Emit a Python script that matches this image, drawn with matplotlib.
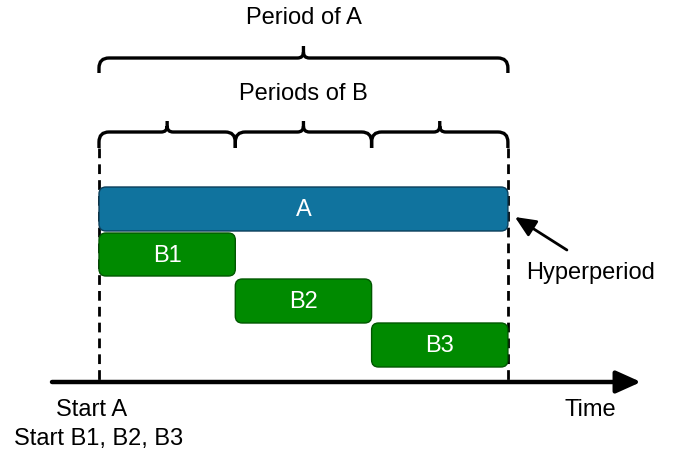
"""Hyperperiod diagram: task A with period 3, tasks B1..B3 with period 1."""

import matplotlib
matplotlib.use("Agg")
import matplotlib.pyplot as plt
from matplotlib.patches import FancyBboxPatch, FancyArrowPatch, PathPatch
from matplotlib.path import Path

plt.rcParams["font.family"] = ["Liberation Sans", "DejaVu Sans"]

# time data (units of B's period)
period_a = 3
period_b = 1
task_names = ["A", "B1", "B2", "B3"]
task_starts = [0, 0, 1, 2]
task_ends = [3, 1, 2, 3]
task_colors = ["#10739E", "#008A00", "#008A00", "#008A00"]
task_edges = ["#0B3E5A", "#005700", "#005700", "#005700"]
# vertical layout (pixels from top)
task_tops = [187, 233, 279, 323]
task_heights = [44, 43, 44, 44]

PX = 136.3          # pixels per time unit
X0 = 99             # pixel column of t = 0
W, H = 683, 454

fig = plt.figure(figsize=(W / 100, H / 100), dpi=100)
ax = fig.add_axes([0, 0, 1, 1])
ax.set_xlim(-X0 / PX, (W - X0) / PX)
ax.set_ylim(H, 0)
ax.axis("off")

LW = 2.4
FS = 17
DY = 1.5  # nudge text down a little


def brace(t0, t1, y_end, y_mid, y_tip, r=10):
    rx = r / PX
    tc = (t0 + t1) / 2
    rc = 6
    rcx = rc / PX
    verts = [
        (t0, y_end), (t0, y_mid + r), (t0, y_mid), (t0 + rx, y_mid),
        (tc - rcx, y_mid), (tc, y_mid), (tc, y_mid - rc), (tc, y_tip),
        (tc, y_mid - rc), (tc, y_mid), (tc + rcx, y_mid),
        (t1 - rx, y_mid), (t1, y_mid), (t1, y_mid + r), (t1, y_end),
    ]
    codes = [
        Path.MOVETO, Path.LINETO, Path.CURVE3, Path.CURVE3,
        Path.LINETO, Path.CURVE3, Path.CURVE3, Path.LINETO,
        Path.MOVETO, Path.CURVE3, Path.CURVE3,
        Path.LINETO, Path.CURVE3, Path.CURVE3, Path.LINETO,
    ]
    ax.add_patch(PathPatch(Path(verts, codes), fill=False, lw=LW,
                           edgecolor="black", capstyle="butt"))


# braces
brace(0, period_a, 73, 58, 46)
ax.text(period_a / 2, 17 + DY, "Period of A", ha="center", va="center", fontsize=FS)
n_b = int(period_a / period_b)
for k in range(n_b):
    brace(k * period_b, (k + 1) * period_b, 148, 132, 121)
ax.text(period_a / 2, 92 + DY, "Periods of B", ha="center", va="center", fontsize=FS)

# dashed hyperperiod bounds
for t in (0, period_a):
    ax.plot([t, t], [148, 382], color="black", lw=2.0, ls=(0, (3.5, 2.2)))

# task bars
for name, s, e, c, ec, top, h in zip(task_names, task_starts, task_ends,
                                      task_colors, task_edges, task_tops, task_heights):
    box = FancyBboxPatch((s, top), e - s, h,
                         boxstyle=f"round,pad=0,rounding_size={7 / PX}",
                         mutation_aspect=PX, facecolor=c, edgecolor=ec, lw=1.0,
                         zorder=3)
    ax.add_patch(box)
    ax.text((s + e) / 2, top + h / 2 + DY, name, ha="center", va="center",
            color="white", fontsize=FS, zorder=4)

# time axis
ax.add_patch(FancyArrowPatch((-47 / PX, 382), (542 / PX, 382),
                             arrowstyle="-|>,head_length=1.0,head_width=0.45",
                             mutation_scale=15, lw=3.2, color="black",
                             shrinkA=0, shrinkB=0, zorder=5))

# hyperperiod pointer
ax.add_patch(FancyArrowPatch((period_a + 59 / PX, 250), (period_a + 7 / PX, 217),
                             arrowstyle="-|>,head_length=0.9,head_width=0.4",
                             mutation_scale=14, lw=2.0, color="black",
                             shrinkA=0, shrinkB=0, zorder=5))
ax.text(period_a + 83 / PX, 271 + DY, "Hyperperiod", ha="center", va="center", fontsize=FS)

ax.text(-7 / PX, 408 + DY, "Start A", ha="center", va="center", fontsize=FS)
ax.text(0, 437 + DY, "Start B1, B2, B3", ha="center", va="center", fontsize=FS)
ax.text(period_a + 82 / PX, 408 + DY, "Time", ha="center", va="center", fontsize=FS)

fig.savefig("out.png", dpi=100)
